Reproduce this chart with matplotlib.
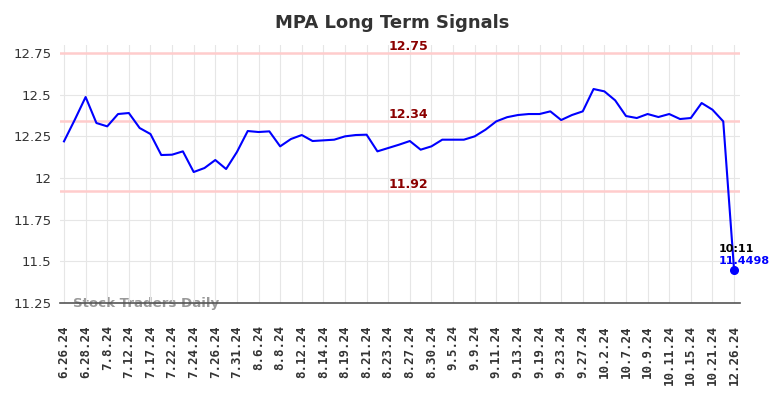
import matplotlib
matplotlib.use("Agg")
import matplotlib.pyplot as plt

# tick labels (every second data point)
TICK_LABELS = ["6.26.24", "6.28.24", "7.8.24", "7.12.24", "7.17.24", "7.22.24", "7.24.24",
               "7.26.24", "7.31.24", "8.6.24", "8.8.24", "8.12.24", "8.14.24", "8.19.24",
               "8.21.24", "8.23.24", "8.27.24", "8.30.24", "9.5.24", "9.9.24", "9.11.24",
               "9.13.24", "9.19.24", "9.23.24", "9.27.24", "10.2.24", "10.7.24", "10.9.24",
               "10.11.24", "10.15.24", "10.21.24", "12.26.24"]

PRICES = [12.22, 12.35, 12.486, 12.33, 12.31, 12.384, 12.39, 12.30, 12.264, 12.138,
          12.14, 12.16, 12.036, 12.06, 12.108, 12.054, 12.156, 12.282, 12.276, 12.28,
          12.19, 12.234, 12.258, 12.222, 12.226, 12.23, 12.25, 12.258, 12.26, 12.16,
          12.18, 12.20, 12.222, 12.17, 12.19, 12.23, 12.23, 12.23, 12.25, 12.29,
          12.34, 12.365, 12.378, 12.384, 12.384, 12.40, 12.348, 12.378, 12.40, 12.534,
          12.52, 12.466, 12.372, 12.36, 12.384, 12.366, 12.384, 12.354, 12.36, 12.45,
          12.41, 12.34, 11.4498]

LEVELS = [12.75, 12.34, 11.92]
LAST_TIME = "10:11"

fig = plt.figure(figsize=(7.84, 3.98), dpi=100)
ax = fig.add_axes([60/784, 95/398, 680/784, 258.3/398])

x = list(range(len(PRICES)))
ax.plot(x, PRICES, color="#0000ff", lw=1.5, zorder=3)
ax.plot(x[-1], PRICES[-1], "o", color="#0000ff", ms=5.5, zorder=4)

for lv in LEVELS:
    ax.axhline(lv, color="#ffcccc", lw=1.8, zorder=2)
    ax.text(31.9, lv + 0.042, f"{lv:.2f}", color="#8b0000", fontweight="bold",
            fontsize=9, ha="center", va="center", zorder=5)

ax.text(x[-1] - 1.4, PRICES[-1] + 0.095, LAST_TIME, color="black", fontweight="bold",
        fontsize=8, ha="left", va="bottom")
ax.text(x[-1] - 1.4, PRICES[-1] + 0.02, f"{PRICES[-1]:.4f}", color="#0000ff", fontweight="bold",
        fontsize=8, ha="left", va="bottom")

ax.text(0.8, 11.25, "Stock Traders Daily", color="#999999", fontweight="bold",
        fontsize=9.6, ha="left", va="center", zorder=1)

ax.set_xlim(-0.37, len(PRICES) - 1 + 0.55)
ax.set_ylim(11.25, 12.80)
ax.set_xticks(range(0, len(PRICES), 2))
ax.set_xticklabels(TICK_LABELS, rotation=90, fontweight="bold", fontsize=9,
                   family="DejaVu Sans Mono", color="#333333")
ax.set_yticks([11.25, 11.5, 11.75, 12, 12.25, 12.5, 12.75])
ax.set_yticklabels(["11.25", "11.5", "11.75", "12", "12.25", "12.5", "12.75"],
                   fontsize=9.5, color="#333333")
ax.tick_params(axis="x", length=0, pad=16)
ax.tick_params(axis="y", length=0, pad=6)
ax.grid(True, color="#e6e6e6", lw=0.8, zorder=0)
for s in ["top", "right", "left"]:
    ax.spines[s].set_visible(False)
ax.spines["bottom"].set_color("#555555")
ax.spines["bottom"].set_linewidth(1.2)

fig.suptitle("MPA Long Term Signals", fontsize=13, fontweight="bold", color="#333333", y=0.965)
fig.savefig("out.png", dpi=100)
